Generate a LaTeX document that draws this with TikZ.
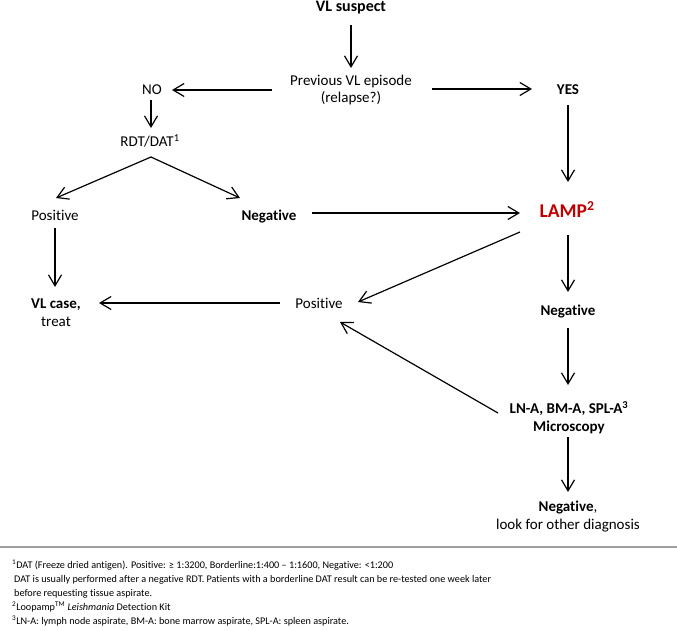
\documentclass[tikz,border=0pt]{standalone}
\usepackage{fontspec}
\setmainfont{Carlito}[Ligatures=NoCommon]
\usetikzlibrary{arrows.meta,calc}
\definecolor{lampred}{HTML}{C00000}
\begin{document}
\begin{tikzpicture}[x=1pt,y=-1pt,
  lbl/.style={inner sep=0pt, anchor=base, align=center, font=\fontsize{15}{17.5}\selectfont},
  fn/.style={inner sep=0pt, anchor=base west, font=\fontsize{10.2}{14}\selectfont},
  arr/.style={-{Straight Barb[length=11pt,width=13pt]}, line width=1.2pt},
  ]
\useasboundingbox (0,0) rectangle (677,631);
% nodes (base = baseline of the last line)
\node[lbl, font=\fontsize{16}{18}\selectfont\bfseries] (vls) at (351,12) {VL suspect};
\node[lbl] (prev) at (351,103) {Previous VL episode\\(relapse?)};
\node[lbl] (no) at (152,95) {NO};
\node[lbl, font=\fontsize{15}{17.5}\selectfont\bfseries] (yes) at (568,95) {YES};
\node[lbl] (rdt) at (150,147) {RDT/DAT\textsuperscript{1}};
\node[lbl] (pos1) at (55,220) {Positive};
\node[lbl, font=\fontsize{15}{17.5}\selectfont\bfseries] (neg1) at (269,220) {Negative};
\node[lbl, font=\fontsize{19.5}{22}\selectfont\bfseries, text=lampred] (lamp) at (567,218) {LAMP\textsuperscript{2}};
\node[lbl] (vlcase) at (56,326) {\textbf{VL case,}\\treat};
\node[lbl] (pos2) at (319,308) {Positive};
\node[lbl, font=\fontsize{15}{17.5}\selectfont\bfseries] (neg2) at (568,315) {Negative};
\node[lbl, font=\fontsize{15}{17.5}\selectfont\bfseries] (lna) at (569,431) {LN-A, BM-A, SPL-A\textsuperscript{3}\\Microscopy};
\node[lbl] (neg3) at (568,529) {\textbf{Negative},\\look for other diagnosis};
% connectors
\draw[arr] ($(vls.base)+(0,13)$) -- ($(prev.base)+(0,-35)$);
\draw[arr] ($(prev.base)+(-79,-13)$) -- ($(no.base)+(20,-5)$);
\draw[arr] ($(prev.base)+(81,-14)$) -- ($(yes.base)+(-36,-6)$);
\draw[arr] ($(no.base)+(-1,5)$) -- ($(rdt.base)+(1,-19)$);
\draw[arr] ($(rdt.base)+(1,10)$) -- ($(pos1.base)+(1,-22)$);
\draw[arr] ($(rdt.base)+(1,10)$) -- ($(neg1.base)+(-29,-22)$);
\draw[arr] ($(pos1.base)+(0,8)$) -- ($(vlcase.base)+(-1,-39)$);
\draw[arr] ($(neg1.base)+(43,-7)$) -- ($(lamp.base)+(-47,-5)$);
\draw[arr] ($(yes.base)+(0,10)$) -- ($(lamp.base)+(1,-36)$);
\draw[arr] ($(lamp.base)+(-47,14)$) -- ($(pos2.base)+(39,-6)$);
\draw[arr] ($(lamp.base)+(1,17)$) -- ($(neg2.base)+(0,-23)$);
\draw[arr] ($(pos2.base)+(-39,-5)$) -- ($(vlcase.base)+(43,-23)$);
\draw[arr] ($(neg2.base)+(0,13)$) -- ($(lna.base)+(-1,-46)$);
\draw[arr] ($(lna.base)+(-71,-18)$) -- ($(pos2.base)+(21,14)$);
\draw[arr] ($(lna.base)+(-1,6)$) -- ($(neg3.base)+(0,-37)$);
% rule
\draw[gray!75, line width=1.1pt] (0,547) -- (677,547);
% footnotes
\node[fn] (fn1) at (12,568) {\textsuperscript{1}DAT (Freeze dried antigen). Positive: ≥ 1:3200, Borderline:1:400 – 1:1600, Negative: <1:200};
\node[fn] (fn2) at (14,582) {DAT is usually performed after a negative RDT. Patients with a borderline DAT result can be re-tested one week later};
\node[fn] (fn3) at (14,596) {before requesting tissue aspirate.};
\node[fn] (fn4) at (12,610) {\textsuperscript{2}Loopamp\textsuperscript{TM} \textit{Leishmania} Detection Kit};
\node[fn] (fn5) at (12,624) {\textsuperscript{3}LN-A: lymph node aspirate, BM-A: bone marrow aspirate, SPL-A: spleen aspirate.};
\end{tikzpicture}
\end{document}
